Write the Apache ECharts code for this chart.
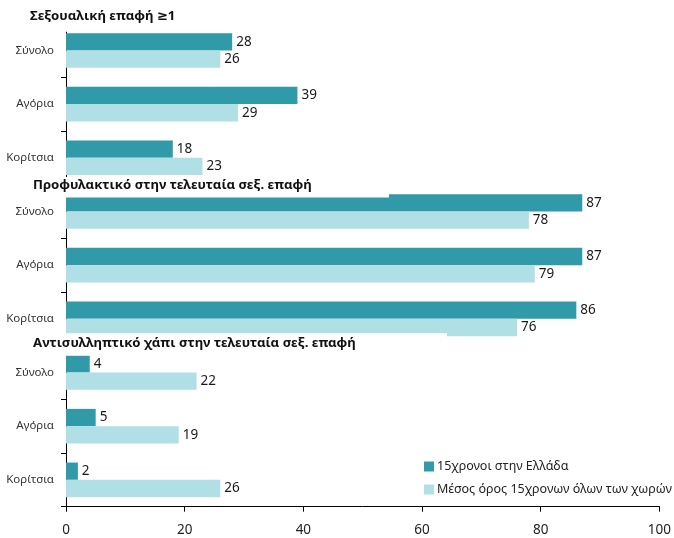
<!DOCTYPE html>
<html>
<head>
<meta charset="utf-8">
<script src="https://cdn.jsdelivr.net/npm/echarts@6/dist/echarts.min.js"></script>
<style>
  html, body { margin: 0; padding: 0; background: #fff; }
  #chart { width: 674px; height: 538px; }
</style>
</head>
<body>
<div id="chart"></div>
<script>
// 9 κατηγορίες: 3 ομάδες (πίνακες) x 3 γραμμές
var categories = ['Σύνολο', 'Αγόρια', 'Κορίτσια', 'Σύνολο', 'Αγόρια', 'Κορίτσια', 'Σύνολο', 'Αγόρια', 'Κορίτσια'];
var greece = [28, 39, 18, 87, 87, 86, 4, 5, 2];
var average = [26, 29, 23, 78, 79, 76, 22, 19, 26];
var seriesNames = ['15χρονοι στην Ελλάδα', 'Μέσος όρος 15χρονων όλων των χωρών'];
var panelTitles = ['Σεξουαλική επαφή ≥1', 'Προφυλακτικό στην τελευταία σεξ. επαφή', 'Αντισυλληπτικό χάπι στην τελευταία σεξ. επαφή'];
var xMin = 0, xMax = 100, xStep = 20;

var FONT = '"Noto Sans", "DejaVu Sans", sans-serif';
var chart = echarts.init(document.getElementById('chart'), null, { renderer: 'canvas' });

// τίτλοι με λευκό φόντο (καλύπτουν λίγο τις μπάρες όπως στο πρωτότυπο)
var titleBoxes = [
  { x: 20, y: 0, w: 230, h: 31.7, tx: 30, ty: 10 },
  { x: 20, y: 177, w: 369, h: 20.5, tx: 33, ty: 179 },
  { x: 20, y: 333.3, w: 427, h: 22.4, tx: 33, ty: 337 }
];
var graphics = [];
titleBoxes.forEach(function (b, i) {
  graphics.push({
    type: 'rect', z: 100,
    shape: { x: b.x, y: b.y, width: b.w, height: b.h },
    style: { fill: '#ffffff' }
  });
  graphics.push({
    type: 'text', z: 101,
    x: b.tx, y: b.ty,
    style: { text: panelTitles[i], font: 'bold 13.2px ' + FONT, fill: '#111111' }
  });
});

var valueLabel = {
  show: true, position: 'right', distance: 4,
  fontFamily: FONT, fontSize: 13.5, color: '#1a1a1a'
};

var option = {
  animation: false,
  textStyle: { fontFamily: FONT },
  grid: { left: 66, right: 14, top: 23.6, bottom: 31.3, containLabel: false },
  legend: {
    orient: 'vertical', left: 419, top: 454,
    itemWidth: 10, itemHeight: 10, itemGap: 8,
    icon: 'rect',
    data: seriesNames,
    textStyle: { fontFamily: FONT, fontSize: 12.5, color: '#222', lineHeight: 15, padding: [0, 0, 0, -2] }
  },
  xAxis: {
    type: 'value', min: xMin, max: xMax, interval: xStep,
    splitLine: { show: false },
    axisLine: { show: true, lineStyle: { color: '#000', width: 1 } },
    axisTick: { show: true, length: 5, lineStyle: { color: '#000' } },
    axisLabel: { margin: 16, fontFamily: FONT, fontSize: 13.5, color: '#222' }
  },
  yAxis: {
    type: 'category', data: categories, inverse: true,
    axisLine: { show: true, lineStyle: { color: '#000', width: 1 } },
    axisTick: { show: true, length: 5, lineStyle: { color: '#000' } },
    axisLabel: { margin: 12, fontFamily: FONT, fontSize: 11.5, color: '#333' }
  },
  series: [
    {
      name: seriesNames[0], type: 'bar', data: greece,
      barWidth: 17.3, barGap: '0%',
      itemStyle: { color: '#319AA8' },
      label: valueLabel
    },
    {
      name: seriesNames[1], type: 'bar', data: average,
      barWidth: 17.3, barGap: '0%',
      itemStyle: { color: '#B0E0E5' },
      label: valueLabel
    }
  ],
  graphic: { elements: graphics }
};

chart.setOption(option);
</script>
</body>
</html>
